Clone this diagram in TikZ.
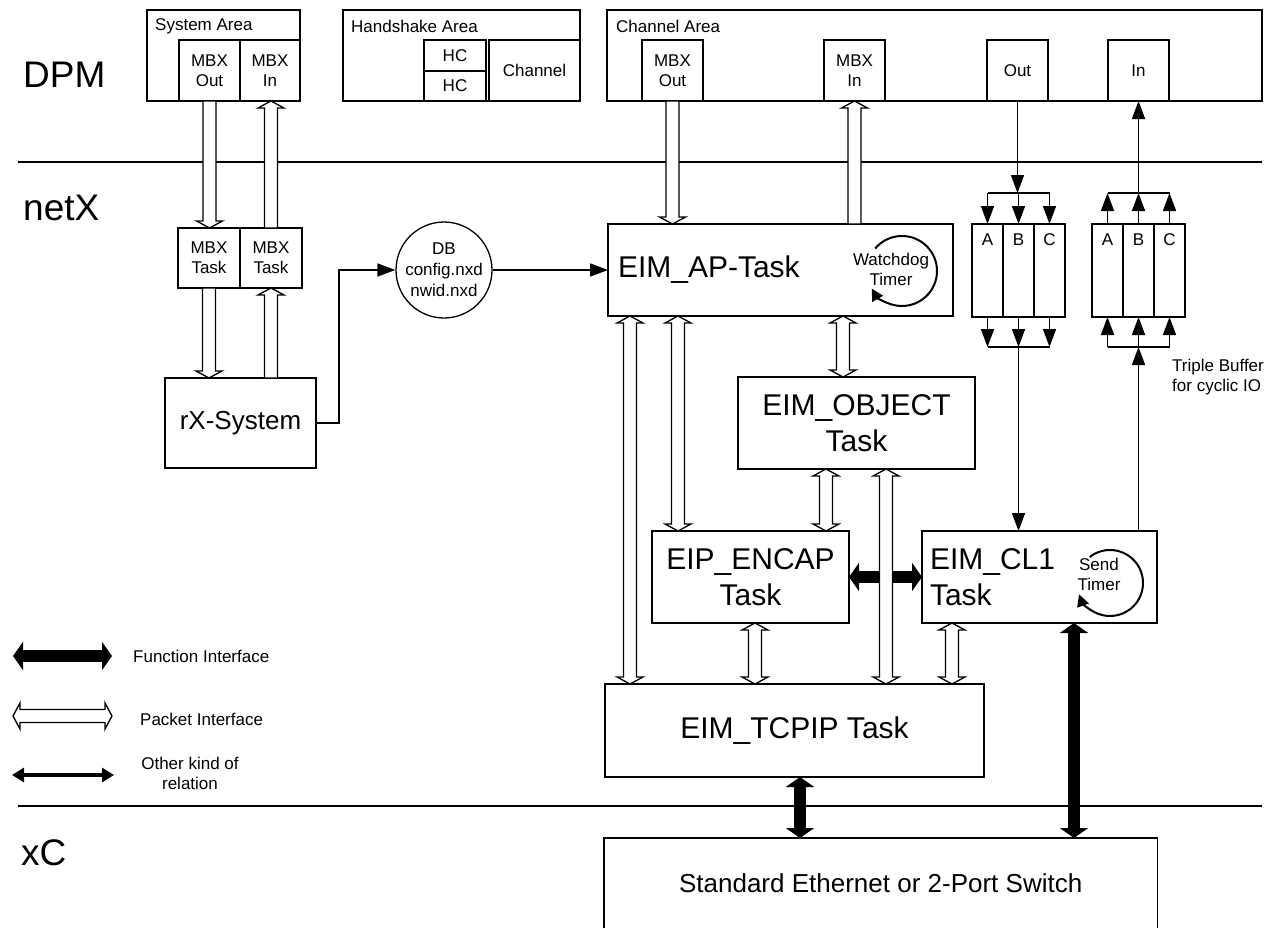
\documentclass[tikz,border=0pt]{standalone}
\usepackage{fontspec}
\setmainfont{Liberation Sans}
\usetikzlibrary{arrows.meta,calc}

\newcommand\txtS{\fontsize{17}{20}\selectfont}
\newcommand\txtM{\fontsize{26}{31}\selectfont}
\newcommand\txtL{\fontsize{30}{36}\selectfont}
\newcommand\txtXL{\fontsize{37}{44}\selectfont}

\tikzset{
  box/.style={draw,line width=1.3pt,rectangle,inner sep=0pt,outer sep=0pt,
              anchor=north west,align=center},
  cell/.style={box,minimum width=31pt,minimum height=93pt},
  divider/.style={line width=2pt},
  flow/.style={line width=1.6pt,-{Triangle[width=13pt,length=18pt]}},
  fnarrow/.style={line width=12pt,
    {Triangle[width=28pt,length=10pt]}-{Triangle[width=28pt,length=10pt]}},
  relarrow/.style={line width=4pt,
    {Triangle[width=14pt,length=12pt]}-{Triangle[width=14pt,length=12pt]}},
  timer/.style={line width=2pt,-{Triangle[width=12pt,length=12pt]}},
  % hollow packet arrow, head at target only
  pkt/.style={draw,line width=1.3pt,fill=white,to path={
    let \p1=(\tikztostart),\p2=(\tikztotarget),\n1={atan2(\y2-\y1,\x2-\x1)} in
    ($(\p1)+(\n1+90:6.5pt)$) -- ($(\p2)+(\n1+180:7pt)+(\n1+90:6.5pt)$)
    -- ($(\p2)+(\n1+180:7pt)+(\n1+90:13pt)$) -- (\p2)
    -- ($(\p2)+(\n1+180:7pt)+(\n1-90:13pt)$) -- ($(\p2)+(\n1+180:7pt)+(\n1-90:6.5pt)$)
    -- ($(\p1)+(\n1-90:6.5pt)$) -- cycle}},
  % hollow packet arrow, heads at both ends
  pkt2/.style={draw,line width=1.3pt,fill=white,to path={
    let \p1=(\tikztostart),\p2=(\tikztotarget),\n1={atan2(\y2-\y1,\x2-\x1)} in
    ($(\p1)+(\n1:7pt)+(\n1+90:6.5pt)$) -- ($(\p2)+(\n1+180:7pt)+(\n1+90:6.5pt)$)
    -- ($(\p2)+(\n1+180:7pt)+(\n1+90:13pt)$) -- (\p2)
    -- ($(\p2)+(\n1+180:7pt)+(\n1-90:13pt)$) -- ($(\p2)+(\n1+180:7pt)+(\n1-90:6.5pt)$)
    -- ($(\p1)+(\n1:7pt)+(\n1-90:6.5pt)$) -- ($(\p1)+(\n1:7pt)+(\n1-90:13pt)$)
    -- (\p1) -- ($(\p1)+(\n1:7pt)+(\n1+90:13pt)$) -- cycle}}
}

\begin{document}
\begin{tikzpicture}[x=1pt,y=-1pt,font=\txtS]
  \useasboundingbox (0,0) rectangle (1275,929);

  % layers
  \draw[divider] (18,162) -- (1262,162);
  \draw[divider] (18,806) -- (1262,806);
  \node[anchor=west,inner sep=0pt,font=\txtXL] (dpm) at (23,75) {DPM};
  \node[anchor=west,inner sep=0pt,font=\txtXL] (netx) at (23,208) {netX};
  \node[anchor=west,inner sep=0pt,font=\txtXL] (xc) at (21,853) {xC};

  % dual port memory
  \node[box,minimum width=153pt,minimum height=91pt] (sys) at (147,10) {};
  \node[anchor=west,inner sep=0pt] (sysT) at (155,26) {System Area};
  \node[box,minimum width=61pt,minimum height=61pt] (smo) at (179,40) {MBX\\Out};
  \node[box,minimum width=60pt,minimum height=61pt] (smi) at (240,40) {MBX\\In};

  \node[box,minimum width=237pt,minimum height=91pt] (hs) at (343,10) {};
  \node[anchor=west,inner sep=0pt] (hsT) at (351,26) {Handshake Area};
  \node[box,minimum width=62pt,minimum height=31pt] (hc1) at (424,40) {HC};
  \node[box,minimum width=62pt,minimum height=30pt] (hc2) at (424,71) {HC};
  \node[box,minimum width=91pt,minimum height=61pt] (hch) at (489,40) {Channel};

  \node[box,minimum width=655pt,minimum height=91pt] (cha) at (607,10) {};
  \node[anchor=west,inner sep=0pt] (chaT) at (616,26) {Channel Area};
  \node[box,minimum width=61pt,minimum height=61pt] (cmo) at (642,40) {MBX\\Out};
  \node[box,minimum width=61pt,minimum height=61pt] (cmi) at (824,40) {MBX\\In};
  \node[box,minimum width=61pt,minimum height=61pt] (cout) at (987,40) {Out};
  \node[box,minimum width=61pt,minimum height=61pt] (cin) at (1108,40) {In};

  % netX tasks
  \node[box,minimum width=62pt,minimum height=60pt] (mta) at (178,228) {MBX\\Task};
  \node[box,minimum width=62pt,minimum height=60pt] (mtb) at (240,228) {MBX\\Task};
  \node[box,minimum width=151pt,minimum height=90pt,font=\txtM] (rx) at (165,378) {rX-System};
  \node[draw,circle,line width=1.3pt,minimum size=96pt,inner sep=0pt,align=center,
        font=\fontsize{17}{21}\selectfont] (db) at (444,270) {DB\\config.nxd\\nwid.nxd};
  \node[box,minimum width=345pt,minimum height=92pt,text width=325pt,inner xsep=10pt,
        align=left,font=\txtL] (ap) at (608,224) {EIM\_AP-Task};
  \node[box,minimum width=237pt,minimum height=92pt,font=\txtL] (obj) at (738,377) {EIM\_OBJECT\\Task};
  \node[box,minimum width=197pt,minimum height=92pt,font=\txtL] (enc) at (652,531) {EIP\_ENCAP\\Task};
  \node[box,minimum width=235pt,minimum height=92pt,text width=219pt,inner xsep=8pt,
        align=left,font=\txtL] (cl) at (922,531) {EIM\_CL1\\Task};
  \node[box,minimum width=379pt,minimum height=93pt,font=\txtL] (tcp) at (605,684) {EIM\_TCPIP Task};
  \node[anchor=north west,minimum width=553pt,minimum height=90pt,inner sep=0pt,
        font=\txtM] (eth) at (604,838) {Standard Ethernet or 2-Port Switch};
  \draw[line width=1.3pt] (eth.south west) -- (eth.north west) -- (eth.north east) -- (eth.south east);

  % timers
  \node[align=center,inner sep=0pt] (wdT) at (891,269) {Watchdog\\Timer};
  \coordinate (wdc) at (902,271);
  \draw[timer] ([shift={(140:35pt)}]wdc) arc[start angle=140,end angle=-150,radius=35pt];
  \node[align=center,inner sep=0pt] (sdT) at (1099,574) {Send\\Timer};
  \coordinate (sdc) at (1110,583);
  \draw[timer] ([shift={(128:33pt)}]sdc) arc[start angle=128,end angle=-160,radius=33pt];

  % triple buffers
  \foreach \n/\t [count=\i from 0] in {oa/A,ob/B,oc/C}
    \node[cell,label={[anchor=north,yshift=-6pt,name=\n L]north:\t}] (\n) at (972+31*\i,224) {};
  \foreach \n/\t [count=\i from 0] in {ia/A,ib/B,ic/C}
    \node[cell,label={[anchor=north,yshift=-6pt,name=\n L]north:\t}] (\n) at (1092+31*\i,224) {};
  \node[anchor=west,align=left,inner sep=0pt] (tbT) at (1172,377) {Triple Buffer\\for cyclic IO};
  \coordinate (obar) at (0,193);
  \coordinate (olow) at (0,347);

  \draw[flow] (cout.south) -- (cout.south |- obar);
  \draw[line width=1.6pt] (oa.north |- obar) -- (oc.north |- obar);
  \foreach \c in {oa,ob,oc} \draw[flow] (\c.north |- obar) -- (\c.north);
  \foreach \c in {oa,ob,oc} \draw[flow] (\c.south) -- (\c.south |- olow);
  \draw[line width=1.6pt] (oa.south |- olow) -- (oc.south |- olow);
  \draw[flow] (ob.south |- olow) -- (ob.south |- cl.north);

  \foreach \c in {ia,ib,ic} \draw[flow] (\c.north) -- (\c.north |- obar);
  \draw[line width=1.6pt] (ia.north |- obar) -- (ic.north |- obar);
  \draw[flow] (ib.north |- obar) -- (cin.south);
  \foreach \c in {ia,ib,ic} \draw[flow] (\c.south |- olow) -- (\c.south);
  \draw[line width=1.6pt] (ia.south |- olow) -- (ic.south |- olow);
  \draw[flow] (ib.south |- cl.north) -- (ib.south |- olow);

  % other relations
  \draw[flow] (rx.east) -- ++(23,0) |- (db.west);
  \draw[flow] (db.east) -- (ap.west |- db.east);

  % function interfaces
  \coordinate (xg) at (800,0);
  \coordinate (xh) at (1074,0);
  \draw[fnarrow] (enc.east) -- (cl.west);
  \draw[fnarrow] (tcp.south -| xg) -- (eth.north -| xg);
  \draw[fnarrow] (cl.south -| xh) -- (eth.north -| xh);

  % packet interfaces
  \draw[pkt] (smo.south) to (smo.south |- mta.north);
  \draw[pkt] (mtb.north) to (mtb.north |- smi.south);
  \draw[pkt] (mta.south) to (mta.south |- rx.north);
  \draw[pkt] (rx.north -| mtb.south) to (mtb.south);
  \draw[pkt] (cmo.south) to (cmo.south |- ap.north);
  \draw[pkt] (ap.north -| cmi.south) to (cmi.south);

  \coordinate (xa) at (630,0);
  \coordinate (xb) at (678,0);
  \coordinate (xc) at (843,0);
  \coordinate (xd) at (826,0);
  \coordinate (xe) at (886,0);
  \coordinate (xf) at (755,0);
  \coordinate (xi) at (952,0);
  \draw[pkt2] (ap.south -| xa) to (tcp.north -| xa);
  \draw[pkt2] (ap.south -| xb) to (enc.north -| xb);
  \draw[pkt2] (ap.south -| xc) to (obj.north -| xc);
  \draw[pkt2] (obj.south -| xd) to (enc.north -| xd);
  \draw[pkt2] (obj.south -| xe) to (tcp.north -| xe);
  \draw[pkt2] (enc.south -| xf) to (tcp.north -| xf);
  \draw[pkt2] (cl.south -| xi) to (tcp.north -| xi);

  % legend
  \coordinate (lf1) at (13,656);
  \coordinate (lf2) at (112,656);
  \coordinate (lp1) at (13,716);
  \coordinate (lp2) at (112,716);
  \coordinate (lr1) at (12,775);
  \coordinate (lr2) at (114,775);
  \draw[fnarrow] (lf1) -- (lf2);
  \draw[pkt2] (lp1) to (lp2);
  \draw[relarrow] (lr1) -- (lr2);
  \node[anchor=west,inner sep=0pt] (lfT) at (133,656) {Function Interface};
  \node[anchor=west,inner sep=0pt] (lpT) at (140,719) {Packet Interface};
  \node[align=center,inner sep=0pt] (lrT) at (190,773) {Other kind of\\relation};
\end{tikzpicture}
\end{document}
